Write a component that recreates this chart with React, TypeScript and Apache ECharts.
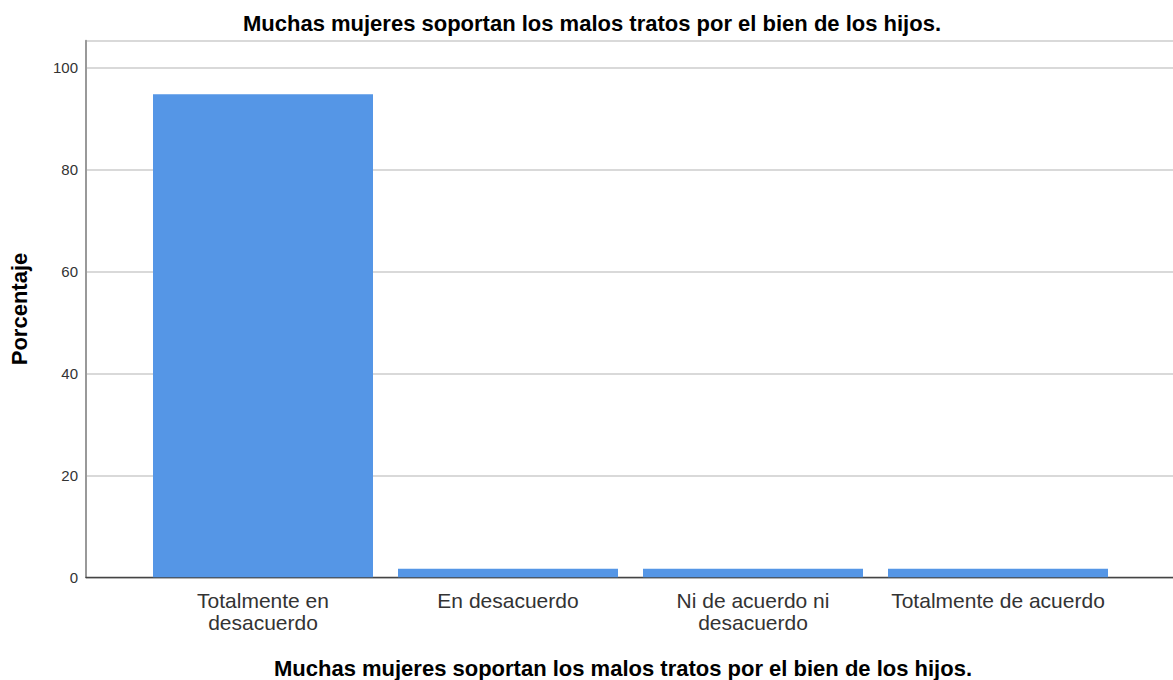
import React, { useEffect, useRef } from "react";
import * as echarts from "echarts";

const categories = [
  "Totalmente en\ndesacuerdo",
  "En desacuerdo",
  "Ni de acuerdo ni\ndesacuerdo",
  "Totalmente de acuerdo",
];
const percentages = [94.8, 1.7, 1.7, 1.7];
const chartTitle = "Muchas mujeres soportan los malos tratos por el bien de los hijos.";
const yAxisTitle = "Porcentaje";
const xAxisTitle = "Muchas mujeres soportan los malos tratos por el bien de los hijos.";

const FONT = "Arial, 'Liberation Sans', sans-serif";

export default function App() {
  const ref = useRef<HTMLDivElement>(null);
  useEffect(() => {
    if (!ref.current) return;
    const chart = echarts.init(ref.current, null, { renderer: "svg" });
    const top = 40.7;
    const bottom = 680 - 577.3;
    const yMax = 105.3;
    chart.setOption({
      animation: false,
      backgroundColor: "#ffffff",
      title: {
        text: chartTitle,
        left: 587,
        top: 7,
        textAlign: "center",
        textStyle: { fontFamily: FONT, fontSize: 22, fontWeight: "bold", color: "#000" },
      },
      grid: [
        { left: 86, right: 0, top, bottom },
        { left: 140.5, width: 980, top, bottom },
      ],
      xAxis: [
        {
          type: "value",
          gridIndex: 0,
          min: 0,
          max: 1,
          axisLine: { show: true, onZero: false, lineStyle: { color: "#444", width: 1.3 } },
          axisTick: { show: false },
          axisLabel: { show: false },
          splitLine: { show: false },
        },
        {
          type: "category",
          gridIndex: 1,
          data: categories,
          axisLine: { show: false },
          axisTick: { show: false },
          axisLabel: {
            fontFamily: FONT,
            fontSize: 21,
            color: "#333",
            lineHeight: 22,
            margin: 12,
            interval: 0,
          },
        },
      ],
      yAxis: [
        {
          type: "value",
          gridIndex: 0,
          min: 0,
          max: yMax,
          interval: 20,
          name: yAxisTitle,
          nameLocation: "middle",
          nameGap: 56,
          nameTextStyle: { fontFamily: FONT, fontSize: 22, fontWeight: "bold", color: "#000" },
          axisLine: { show: true, lineStyle: { color: "#999", width: 2 } },
          axisTick: { show: false },
          axisLabel: {
            fontFamily: FONT,
            fontSize: 15,
            color: "#333",
            margin: 8,
            showMaxLabel: false,
            formatter: (v: number) => (v % 20 === 0 ? String(v) : ""),
          },
          splitLine: { show: true, lineStyle: { color: "#cccccc", width: 1.5 } },
        },
        {
          type: "value",
          gridIndex: 1,
          min: 0,
          max: yMax,
          interval: 20,
          show: false,
          splitLine: { show: false },
        },
      ],
      series: [
        {
          type: "bar",
          xAxisIndex: 1,
          yAxisIndex: 1,
          data: percentages,
          barWidth: 220,
          itemStyle: { color: "#5596E6" },
        },
      ],
      graphic: [
        {
          type: "text",
          x: 623,
          y: 657,
          style: {
            text: xAxisTitle,
            textAlign: "center",
            fontFamily: FONT,
            fontSize: 22,
            fontWeight: "bold",
            fill: "#000",
          },
        },
      ],
    });
    return () => chart.dispose();
  }, []);
  return (
    <div
      ref={ref}
      style={{ position: "fixed", left: 0, top: 0, width: 1173, height: 680 }}
    />
  );
}
